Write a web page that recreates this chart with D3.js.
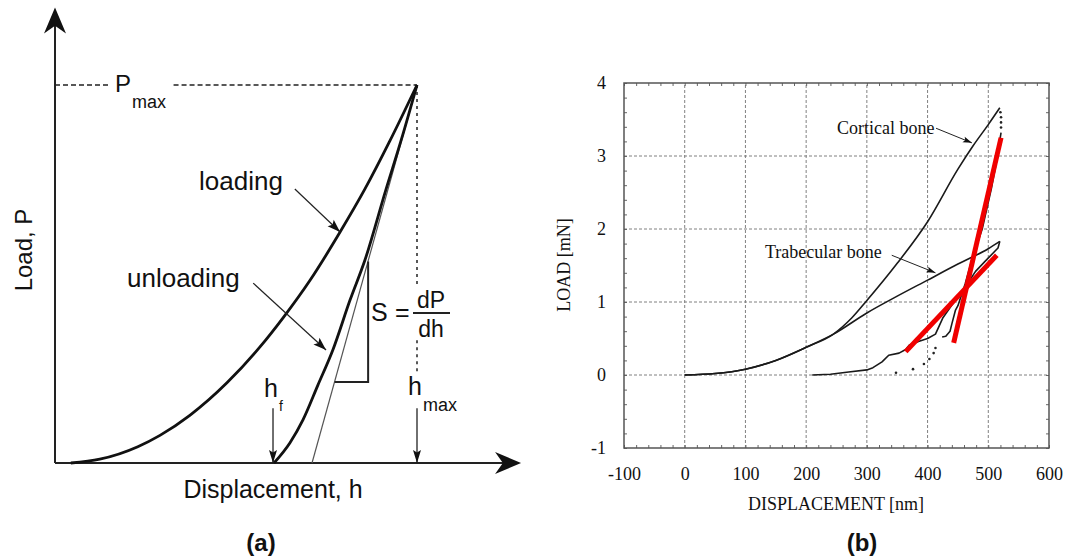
<!DOCTYPE html>
<html>
<head>
<meta charset="utf-8">
<script src="https://d3js.org/d3.v7.min.js"></script>
<style>
body { margin: 0; background: #fff; }
</style>
</head>
<body>
<div id="chart"></div>
<script>
// ---- (a) schematic, h and P in arbitrary units (Pmax = 100) ----
var loadingCurve = [[3.5, 0], [9.9, 1.0], [18.3, 4.3], [23.2, 7.3], [29.8, 12.6], [38.0, 21.2], [45.3, 30.7],
    [50.4, 38.4], [56.4, 48.4], [63.0, 61.1], [68.5, 72.5], [74.0, 85.2], [80.0, 100]];
var unloadingCurve = [[48.4, 0], [51.9, 5.3], [54.8, 11.4], [58.1, 20.6], [61.4, 29.9], [65.2, 43.1],
    [68.5, 53.7], [73.1, 72.2], [76.5, 85.4], [80.0, 100]];
var tangentLine = [[56.8, 0], [80.0, 100]];
var slopeTriangle = [[61.8, 21.4], [69.2, 21.4], [69.2, 53.3]];
var hf = 48.4,
    hmax = 80,
    pmax = 100;

// ---- (b) measured curves, displacement [nm] vs load [mN] ----
var corticalLoad = [[0, 0], [50, 0.02], [100, 0.08], [150, 0.2], [200, 0.38], [245, 0.56], [275, 0.78], [300, 1.02],
    [350, 1.53], [400, 2.1], [450, 2.82], [475, 3.14], [500, 3.43], [519, 3.66]];
var corticalUnload = [[521, 3.32], [513, 2.9], [505, 2.55], [490, 2.0], [473, 1.58], [462, 1.25], [450, 0.95],
    [446, 0.89], [440, 0.7], [437, 0.6], [430, 0.53], [424, 0.52]];
var corticalDots = [[520, 3.6], [521, 3.53], [521, 3.46], [521, 3.39], [413, 0.37], [410, 0.3], [403, 0.22],
    [394, 0.15], [376, 0.08], [348, 0.03]];
var trabecularLoad = [[0, 0], [50, 0.02], [100, 0.08], [150, 0.2], [200, 0.38], [245, 0.56], [300, 0.85],
    [350, 1.08], [400, 1.3], [450, 1.52], [500, 1.73], [519, 1.83]];
var trabecularUnload = [[519, 1.83], [516, 1.74], [495, 1.56], [479, 1.42], [460, 1.18], [440, 0.96], [425, 0.78],
    [413, 0.56], [400, 0.5], [385, 0.46], [370, 0.41], [364, 0.35], [353, 0.3], [336, 0.27], [325, 0.18],
    [310, 0.1], [300, 0.07], [270, 0.04], [240, 0.01], [210, 0]];
var fitLines = [[[443, 0.44], [521, 3.25]], [[364, 0.32], [514, 1.64]]];
var xTicksB = [-100, 0, 100, 200, 300, 400, 500, 600];
var yTicksB = [-1, 0, 1, 2, 3, 4];

var sans = "'Liberation Sans', Arial, sans-serif",
    serif = "'Liberation Serif', 'Times New Roman', serif";

var svg = d3.select("#chart")
    .append("svg")
    .attr("width", 1068)
    .attr("height", 558)
    .style("background", "#fff");

// draws a filled arrow head with its tip at (x2,y2)
function arrowHead(g, x1, y1, x2, y2, len, half, notch) {
    var a = Math.atan2(y2 - y1, x2 - x1),
        c = Math.cos(a),
        s = Math.sin(a);
    var bx = x2 - c * len,
        by = y2 - s * len,
        nx = x2 - c * len * notch,
        ny = y2 - s * len * notch;
    g.append("path")
        .attr("d", "M" + x2 + "," + y2 +
            "L" + (bx - s * half) + "," + (by + c * half) +
            "L" + nx + "," + ny +
            "L" + (bx + s * half) + "," + (by - c * half) + "Z")
        .attr("fill", "#111");
}

function arrowLine(g, x1, y1, x2, y2, len, half, w) {
    g.append("line")
        .attr("x1", x1).attr("y1", y1)
        .attr("x2", x2).attr("y2", y2)
        .attr("stroke", "#222")
        .attr("stroke-width", w);
    arrowHead(g, x1, y1, x2, y2, len, half, 0.8);
}

function txt(g, x, y, s, size, fam, anchor, weight) {
    return g.append("text")
        .attr("x", x).attr("y", y)
        .attr("font-family", fam)
        .attr("font-size", size)
        .attr("font-weight", weight || "normal")
        .attr("text-anchor", anchor || "start")
        .attr("fill", "#111")
        .text(s);
}

// ================= panel (a) =================
var xA = d3.scaleLinear().domain([0, 100]).range([55, 507.5]);
var yA = d3.scaleLinear().domain([0, 100]).range([463, 85]);
var ga = svg.append("g");

var lineA = d3.line()
    .x(function (d) { return xA(d[0]); })
    .y(function (d) { return yA(d[1]); })
    .curve(d3.curveMonotoneX);
var straightA = d3.line()
    .x(function (d) { return xA(d[0]); })
    .y(function (d) { return yA(d[1]); });

// axes with arrows
ga.append("line")
    .attr("x1", xA(0)).attr("y1", yA(0))
    .attr("x2", xA(102)).attr("y2", yA(0))
    .attr("stroke", "#222").attr("stroke-width", 2);
arrowHead(ga, xA(0), yA(0), xA(103), yA(0), 26, 11, 0.7);
ga.append("line")
    .attr("x1", xA(0)).attr("y1", yA(0))
    .attr("x2", xA(0)).attr("y2", yA(119))
    .attr("stroke", "#222").attr("stroke-width", 2);
arrowHead(ga, xA(0), yA(0), xA(0), yA(120.5), 26, 11, 0.7);

// Pmax dashed line (gap for the label)
[[0, 12.2], [26.2, hmax]].forEach(function (seg) {
    ga.append("line")
        .attr("x1", xA(seg[0])).attr("x2", xA(seg[1]))
        .attr("y1", yA(pmax)).attr("y2", yA(pmax))
        .attr("stroke", "#222")
        .attr("stroke-width", 1.3)
        .attr("stroke-dasharray", "5,3");
});

// hmax dotted vertical (gap for the fraction)
[[pmax, 46.3], [32.5, 23.8]].forEach(function (seg) {
    ga.append("line")
        .attr("x1", xA(hmax)).attr("x2", xA(hmax))
        .attr("y1", yA(seg[0])).attr("y2", yA(seg[1]))
        .attr("stroke", "#222")
        .attr("stroke-width", 1.5)
        .attr("stroke-dasharray", "3,4");
});

// tangent and stiffness triangle
ga.append("path")
    .attr("d", straightA(tangentLine))
    .attr("fill", "none")
    .attr("stroke", "#555")
    .attr("stroke-width", 1.2);
ga.append("path")
    .attr("d", straightA(slopeTriangle))
    .attr("fill", "none")
    .attr("stroke", "#222")
    .attr("stroke-width", 2);

// loading / unloading curves
ga.append("path").attr("d", lineA(loadingCurve))
    .attr("fill", "none").attr("stroke", "#111").attr("stroke-width", 2.8);
ga.append("path").attr("d", lineA(unloadingCurve))
    .attr("fill", "none").attr("stroke", "#111").attr("stroke-width", 2.8);

// hf and hmax arrows
arrowLine(ga, xA(hf) - 1, yA(14.5), xA(hf) - 1, yA(0), 13, 4, 1.3);
arrowLine(ga, xA(hmax), yA(14.5), xA(hmax), yA(0), 13, 4, 1.3);

// label arrows
arrowLine(ga, xA(53.0), yA(72.5), xA(63.0), yA(61.1), 13, 4.5, 1.2);
arrowLine(ga, xA(43.8), yA(47.6), xA(59.9), yA(29.9), 13, 4.5, 1.2);

txt(ga, 115, 92, "P", 24, sans);
txt(ga, 132, 108, "max", 18, sans);
txt(ga, 199, 190, "loading", 26, sans);
txt(ga, 127, 287, "unloading", 26, sans);
txt(ga, 371, 321, "S", 25, sans);
txt(ga, 395, 321, "=", 25, sans);
ga.append("line")
    .attr("x1", 413).attr("x2", 450)
    .attr("y1", 313).attr("y2", 313)
    .attr("stroke", "#222").attr("stroke-width", 2);
txt(ga, 431, 308, "dP", 23, sans, "middle");
txt(ga, 431, 337, "dh", 23, sans, "middle");
txt(ga, 264, 397, "h", 25, sans);
txt(ga, 279, 411, "f", 14, sans);
txt(ga, 408, 395, "h", 25, sans);
txt(ga, 423, 411, "max", 18, sans);

txt(ga, 273, 498, "Displacement, h", 25, sans, "middle");
txt(ga, 0, 0, "Load, P", 24, sans, "middle")
    .attr("transform", "translate(32,250) rotate(-90)");
txt(ga, 261, 551, "(a)", 24, sans, "middle", "bold");

// ================= panel (b) =================
var xB = d3.scaleLinear().domain([-100, 600]).range([624, 1049]);
var yB = d3.scaleLinear().domain([-1, 4]).range([448, 83]);
var gb = svg.append("g");

// grid
gb.selectAll(".vgrid")
    .data(xTicksB.slice(1, -1))
    .enter()
    .append("line")
    .attr("x1", function (d) { return xB(d); })
    .attr("x2", function (d) { return xB(d); })
    .attr("y1", yB(-1)).attr("y2", yB(4))
    .attr("stroke", "#808080")
    .attr("stroke-width", 1)
    .attr("stroke-dasharray", "3,2");
gb.selectAll(".hgrid")
    .data(yTicksB.slice(1, -1))
    .enter()
    .append("line")
    .attr("y1", function (d) { return yB(d); })
    .attr("y2", function (d) { return yB(d); })
    .attr("x1", xB(-100)).attr("x2", xB(600))
    .attr("stroke", "#808080")
    .attr("stroke-width", 1)
    .attr("stroke-dasharray", "3,2");

// minor ticks on all four sides, pointing inwards
var minorX = d3.range(-100, 601, 20),
    minorY = d3.range(-1, 4.01, 0.2);
var tickGroups = [
    [d3.axisBottom(xB).tickValues(minorX), "translate(0," + yB(-1) + ")"],
    [d3.axisTop(xB).tickValues(minorX), "translate(0," + yB(4) + ")"],
    [d3.axisLeft(yB).tickValues(minorY), "translate(" + xB(-100) + ",0)"],
    [d3.axisRight(yB).tickValues(minorY), "translate(" + xB(600) + ",0)"]
];
tickGroups.forEach(function (t) {
    var ax = gb.append("g")
        .attr("transform", t[1])
        .call(t[0].tickSize(-3).tickFormat(""));
    ax.select(".domain").remove();
    ax.selectAll("line").attr("stroke", "#666");
});

gb.append("rect")
    .attr("x", xB(-100)).attr("y", yB(4))
    .attr("width", xB(600) - xB(-100))
    .attr("height", yB(-1) - yB(4))
    .attr("fill", "none")
    .attr("stroke", "#555")
    .attr("stroke-width", 1.5);

// tick labels
var xAx = gb.append("g")
    .attr("transform", "translate(0," + yB(-1) + ")")
    .call(d3.axisBottom(xB).tickValues(xTicksB).tickSize(0).tickPadding(19).tickFormat(d3.format("d")));
var yAx = gb.append("g")
    .attr("transform", "translate(" + xB(-100) + ",0)")
    .call(d3.axisLeft(yB).tickValues(yTicksB).tickSize(0).tickPadding(18).tickFormat(d3.format("d")));
[xAx, yAx].forEach(function (ax) {
    ax.select(".domain").remove();
    ax.selectAll("text")
        .attr("font-family", serif)
        .attr("font-size", 18)
        .attr("fill", "#111")
        .text(function (d) { return d < 0 ? "-" + Math.abs(d) : d; });
});

var lineB = d3.line()
    .x(function (d) { return xB(d[0]); })
    .y(function (d) { return yB(d[1]); });
var smoothB = d3.line()
    .x(function (d) { return xB(d[0]); })
    .y(function (d) { return yB(d[1]); })
    .curve(d3.curveMonotoneX);

[corticalLoad, trabecularLoad].forEach(function (c) {
    gb.append("path")
        .attr("d", smoothB(c))
        .attr("fill", "none")
        .attr("stroke", "#1a1a1a")
        .attr("stroke-width", 1.6);
});
[corticalUnload, trabecularUnload].forEach(function (c) {
    gb.append("path")
        .attr("d", lineB(c))
        .attr("fill", "none")
        .attr("stroke", "#1a1a1a")
        .attr("stroke-width", 1.6)
        .attr("stroke-linejoin", "round");
});

gb.selectAll(".dot")
    .data(corticalDots)
    .enter()
    .append("circle")
    .attr("cx", function (d) { return xB(d[0]); })
    .attr("cy", function (d) { return yB(d[1]); })
    .attr("r", 1.3)
    .attr("fill", "#222");

// red stiffness fits
fitLines.forEach(function (f) {
    gb.append("path")
        .attr("d", lineB(f))
        .attr("stroke", "#f00000")
        .attr("stroke-width", 5);
});

// annotations
txt(gb, 837, 134, "Cortical bone", 18, serif);
arrowLine(gb, xB(414), yB(3.38), xB(473), yB(3.18), 9, 3, 1);
txt(gb, 765, 258, "Trabecular bone", 18, serif);
arrowLine(gb, xB(341), yB(1.64), xB(413), yB(1.4), 9, 3, 1);

txt(gb, 836, 510, "DISPLACEMENT [nm]", 18, serif, "middle");
txt(gb, 0, 0, "LOAD [mN]", 18, serif, "middle")
    .attr("transform", "translate(570,265) rotate(-90)");
txt(gb, 862, 551, "(b)", 24, sans, "middle", "bold");
</script>
</body>
</html>
